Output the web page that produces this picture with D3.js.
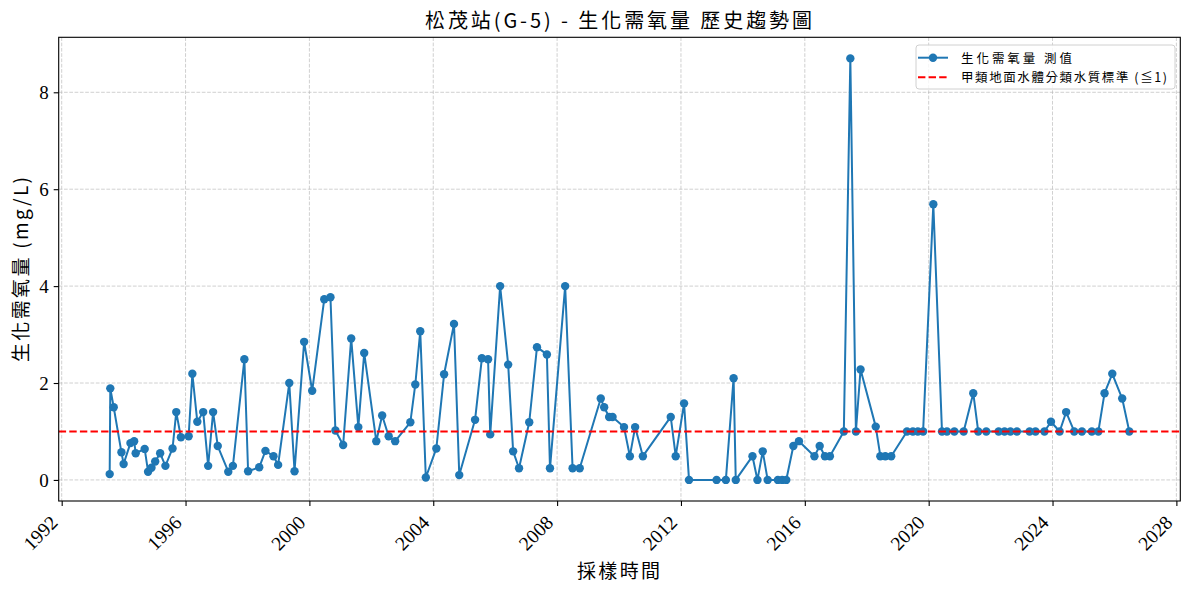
<!DOCTYPE html>
<html>
<head>
<meta charset="utf-8">
<script src="https://cdn.jsdelivr.net/npm/d3@7/dist/d3.min.js"></script>
<style>
  body { margin: 0; background: #fff; }
  svg { display: block; }
  text { font-family: "Liberation Serif", "DejaVu Serif", "Noto Sans CJK TC", serif; }
  .cjk { font-family: "Noto Sans CJK TC", "Liberation Serif", serif; }
</style>
</head>
<body>
<svg id="chart" width="1189" height="590"></svg>
<script>
// ---- data (decimal year of sample, BOD value mg/L) ----
const sampleYears = [
  1993.55, 1993.57, 1993.68, 1993.93, 1994.00, 1994.22, 1994.34, 1994.39, 1994.68, 1994.79,
  1994.90, 1995.02, 1995.18, 1995.35, 1995.58, 1995.70, 1995.85, 1996.10, 1996.22, 1996.38,
  1996.57, 1996.73, 1996.89, 1997.04, 1997.38, 1997.53, 1997.90, 1998.02, 1998.38, 1998.58,
  1998.84, 1998.99, 1999.35, 1999.52, 1999.83, 2000.09, 2000.48, 2000.68, 2000.84, 2001.09,
  2001.35, 2001.58, 2001.77, 2002.16, 2002.35, 2002.56, 2002.77, 2003.26, 2003.42, 2003.58,
  2003.76, 2004.10, 2004.35, 2004.67, 2004.84, 2005.35, 2005.57, 2005.77, 2005.84, 2006.16,
  2006.42, 2006.58, 2006.77, 2007.10, 2007.35, 2007.67, 2007.77, 2008.26, 2008.50, 2008.73,
  2009.41, 2009.52, 2009.68, 2009.79, 2010.16, 2010.35, 2010.52, 2010.77, 2011.67, 2011.83,
  2012.10, 2012.26, 2013.15, 2013.45, 2013.70, 2013.77, 2014.31, 2014.47, 2014.64, 2014.80,
  2015.13, 2015.27, 2015.40, 2015.63, 2015.81, 2016.31, 2016.48, 2016.65, 2016.81, 2017.26,
  2017.47, 2017.65, 2017.80, 2018.29, 2018.44, 2018.60, 2018.79, 2019.30, 2019.49, 2019.65,
  2019.82, 2020.15, 2020.43, 2020.59, 2020.83, 2021.13, 2021.44, 2021.60, 2021.86, 2022.26,
  2022.45, 2022.64, 2022.85, 2023.26, 2023.45, 2023.74, 2023.95, 2024.23, 2024.44, 2024.70,
  2024.95, 2025.27, 2025.48, 2025.68, 2025.93, 2026.25, 2026.48
];
const bodValues = [
  0.12, 1.89, 1.50, 0.57, 0.33, 0.76, 0.80, 0.55, 0.64, 0.17,
  0.25, 0.38, 0.55, 0.29, 0.65, 1.40, 0.88, 0.90, 2.19, 1.20,
  1.40, 0.29, 1.40, 0.70, 0.17, 0.29, 2.49, 0.18, 0.26, 0.60,
  0.49, 0.31, 2.00, 0.18, 2.85, 1.84, 3.73, 3.77, 1.02, 0.72,
  2.92, 1.09, 2.62, 0.80, 1.33, 0.90, 0.80, 1.19, 1.97, 3.07,
  0.05, 0.65, 2.18, 3.22, 0.10, 1.24, 2.51, 2.49, 0.94, 4.00,
  2.38, 0.59, 0.24, 1.19, 2.74, 2.59, 0.24, 4.00, 0.24, 0.24,
  1.68, 1.50, 1.30, 1.30, 1.09, 0.49, 1.09, 0.49, 1.30, 0.49,
  1.58, 0.00, 0.00, 0.00, 2.10, 0.00, 0.49, 0.00, 0.59, 0.00,
  0.00, 0.00, 0.00, 0.70, 0.80, 0.49, 0.70, 0.49, 0.49, 1.00,
  8.70, 1.00, 2.28, 1.10, 0.49, 0.49, 0.49, 1.00, 1.00, 1.00,
  1.00, 5.69, 1.00, 1.00, 1.00, 1.00, 1.79, 1.00, 1.00, 1.00,
  1.00, 1.00, 1.00, 1.00, 1.00, 1.00, 1.20, 1.00, 1.40, 1.00,
  1.00, 1.00, 1.00, 1.79, 2.19, 1.68, 1.00
];
const standardValue = 1;
const xTickYears = [1992, 1996, 2000, 2004, 2008, 2012, 2016, 2020, 2024, 2028];
const yTickValues = [0, 2, 4, 6, 8];
const titleText = "松茂站(G-5) - 生化需氧量 歷史趨勢圖";
const xLabelText = "採樣時間";
const yLabelText = "生化需氧量 (mg/L)";
const legendLabels = ["生化需氧量 測值", "甲類地面水體分類水質標準 (≦1)"];

const data = sampleYears.map((t, i) => ({ t, v: bodValues[i] }));

// ---- layout ----
const svg = d3.select("#chart");
const M = { left: 58.7, right: 1180.3, top: 37.3, bottom: 501 };
const blue = "#1f77b4";

const xExt = d3.extent(sampleYears);
const xPad = (xExt[1] - xExt[0]) * 0.05;
const x = d3.scaleLinear().domain([xExt[0] - xPad, xExt[1] + xPad]).range([M.left, M.right]);
const yMax = d3.max(bodValues), yMin = Math.min(0, d3.min(bodValues));
const yPad = (yMax - yMin) * 0.05;
const y = d3.scaleLinear().domain([yMin - yPad, yMax + yPad]).range([M.bottom, M.top]);

// grid
const grid = svg.append("g");
grid.selectAll(".gx").data(xTickYears).enter().append("line")
  .attr("x1", d => x(d)).attr("x2", d => x(d))
  .attr("y1", M.top).attr("y2", M.bottom)
  .attr("stroke", "#b0b0b0").attr("stroke-opacity", 0.6).attr("stroke-width", 1)
  .attr("stroke-dasharray", "3.7,1.6");
grid.selectAll(".gy").data(yTickValues).enter().append("line")
  .attr("x1", M.left).attr("x2", M.right)
  .attr("y1", d => y(d)).attr("y2", d => y(d))
  .attr("stroke", "#b0b0b0").attr("stroke-opacity", 0.6).attr("stroke-width", 1)
  .attr("stroke-dasharray", "3.7,1.6");

// clip
svg.append("clipPath").attr("id", "clip").append("rect")
  .attr("x", M.left).attr("y", M.top).attr("width", M.right - M.left).attr("height", M.bottom - M.top);
const plot = svg.append("g").attr("clip-path", "url(#clip)");

// series line
plot.append("path").datum(data)
  .attr("fill", "none").attr("stroke", blue).attr("stroke-width", 2)
  .attr("stroke-linejoin", "round")
  .attr("d", d3.line().x(d => x(d.t)).y(d => y(d.v)));
plot.selectAll("circle.pt").data(data).enter().append("circle")
  .attr("cx", d => x(d.t)).attr("cy", d => y(d.v)).attr("r", 4.2).attr("fill", blue);

// standard line
plot.append("line")
  .attr("x1", M.left).attr("x2", M.right)
  .attr("y1", y(standardValue)).attr("y2", y(standardValue))
  .attr("stroke", "#ff0000").attr("stroke-width", 2).attr("stroke-dasharray", "7.4,3.2");

// axes
const xAxis = d3.axisBottom(x).tickValues(xTickYears).tickFormat(d3.format("d")).tickSize(5).tickPadding(3);
const gx = svg.append("g").attr("transform", `translate(0,${M.bottom})`).call(xAxis);
gx.select(".domain").remove();
gx.selectAll(".tick line").attr("stroke", "#000").attr("stroke-width", 1.1);
gx.selectAll(".tick text")
  .attr("font-size", 19.5).attr("fill", "#000")
  .attr("text-anchor", "end")
  .attr("y", 0).attr("dy", "0.35em")
  .attr("transform", "translate(-8,18) rotate(-45)");

const yAxis = d3.axisLeft(y).tickValues(yTickValues).tickFormat(d3.format("d")).tickSize(5).tickPadding(5);
const gy = svg.append("g").attr("transform", `translate(${M.left},0)`).call(yAxis);
gy.select(".domain").remove();
gy.selectAll(".tick line").attr("stroke", "#000").attr("stroke-width", 1.1);
gy.selectAll(".tick text").attr("font-size", 19).attr("fill", "#000");

// frame
svg.append("rect").attr("x", M.left).attr("y", M.top)
  .attr("width", M.right - M.left).attr("height", M.bottom - M.top)
  .attr("fill", "none").attr("stroke", "#000").attr("stroke-width", 1.1);

// titles
svg.append("text").attr("class", "cjk").attr("x", 425).attr("y", 28)
  .attr("font-size", 20).attr("fill", "#000")
  .attr("textLength", 387).attr("lengthAdjust", "spacing").text(titleText);
svg.append("text").attr("class", "cjk").attr("x", 577).attr("y", 578)
  .attr("font-size", 19).attr("fill", "#000")
  .attr("textLength", 83).attr("lengthAdjust", "spacing").text(xLabelText);
svg.append("text").attr("class", "cjk")
  .attr("transform", `translate(28,362) rotate(-90)`)
  .attr("font-size", 19).attr("fill", "#000")
  .attr("textLength", 185).attr("lengthAdjust", "spacing").text(yLabelText);

// legend
const lg = svg.append("g").attr("transform", "translate(916,45)");
lg.append("rect").attr("x", 0).attr("y", 0).attr("width", 259).attr("height", 44).attr("rx", 3)
  .attr("fill", "#fff").attr("fill-opacity", 0.8).attr("stroke", "#d0d0d0").attr("stroke-width", 1);
lg.append("line").attr("x1", 2).attr("x2", 32).attr("y1", 12.7).attr("y2", 12.7)
  .attr("stroke", blue).attr("stroke-width", 2);
lg.append("circle").attr("cx", 17).attr("cy", 12.7).attr("r", 4.2).attr("fill", blue);
lg.append("line").attr("x1", 2).attr("x2", 32).attr("y1", 32.3).attr("y2", 32.3)
  .attr("stroke", "#ff0000").attr("stroke-width", 2).attr("stroke-dasharray", "7.4,3.2");
const legendWidths = [111, 206];
lg.selectAll("text.lt").data(legendLabels).enter().append("text").attr("class", "cjk")
  .attr("x", 45).attr("y", (d, i) => 17.5 + i * 19.6).attr("font-size", 12.5).attr("fill", "#000")
  .attr("textLength", (d, i) => legendWidths[i]).attr("lengthAdjust", "spacing")
  .text(d => d);
</script>
</body>
</html>
